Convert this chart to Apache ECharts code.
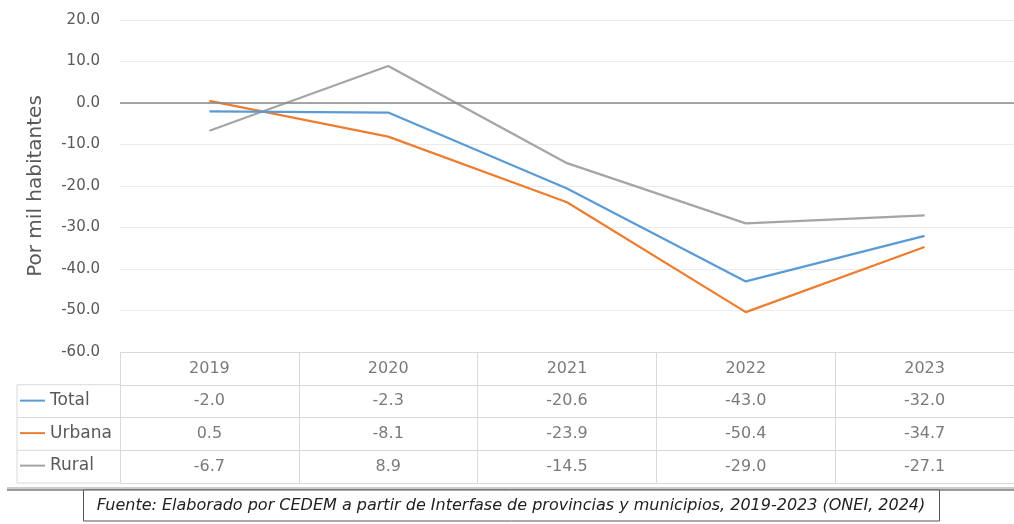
<!DOCTYPE html>
<html>
<head>
<meta charset="utf-8">
<script src="https://cdn.jsdelivr.net/npm/echarts@6/dist/echarts.min.js"></script>
<style>html,body{margin:0;padding:0;background:#fff}#c{width:1014px;height:524px}</style>
</head>
<body>
<div id="c"></div>
<script>
var years = ['2019', '2020', '2021', '2022', '2023'];
var seriesNames = ['Total', 'Urbana', 'Rural'];
var total = [-2.0, -2.3, -20.6, -43.0, -32.0];
var urbana = [0.5, -8.1, -23.9, -50.4, -34.7];
var rural = [-6.7, 8.9, -14.5, -29.0, -27.1];
var yTicks = { min: -60, max: 20, interval: 10 };
var yTitle = 'Por mil habitantes';
var source = 'Fuente: Elaborado por CEDEM a partir de Interfase de provincias y municipios, 2019-2023 (ONEI, 2024)';

var colors = ['#5B9BD5', '#ED7D31', '#A5A5A5'];
var allVals = [total, urbana, rural];
var FONT = 'DejaVu Sans';
var TXT = '#595959';
var GRID_L = 120, GRID_W = 895;
var TBL_TOP = 352, TBL_H = 131;
var rowH = TBL_H / 4;
var LEG_FS = 17;

var tableData = [];
years.forEach(function (y, i) { tableData.push([i, 0, y]); });
allVals.forEach(function (arr, r) {
  arr.forEach(function (v, i) { tableData.push([i, r + 1, v.toFixed(1)]); });
});

var chart = echarts.init(document.getElementById('c'), null, { renderer: 'canvas' });

var graphics = [];
graphics.push({ type: 'line', shape: { x1: 17, y1: TBL_TOP + rowH, x2: 17, y2: TBL_TOP + TBL_H }, style: { stroke: '#d9d9d9', lineWidth: 1 } });
for (var k = 1; k <= 4; k++) {
  var yy = TBL_TOP + rowH * k;
  graphics.push({ type: 'line', shape: { x1: 17, y1: yy, x2: GRID_L, y2: yy }, style: { stroke: '#d9d9d9', lineWidth: 1 } });
}
graphics.push({ type: 'line', shape: { x1: 7, y1: 488, x2: 1014, y2: 488 }, style: { stroke: '#9a9a9a', lineWidth: 1 } });
graphics.push({ type: 'line', shape: { x1: 7, y1: 490, x2: 1014, y2: 490 }, style: { stroke: '#7a7a7a', lineWidth: 1.5 } });
graphics.push({ type: 'rect', shape: { x: 83.5, y: 490, width: 856, height: 31 }, style: { fill: '#fff', stroke: '#555', lineWidth: 1 } });
graphics.push({ type: 'text', x: 511, y: 506, style: { text: source, font: 'italic 16px "DejaVu Sans"', fill: '#222', textAlign: 'center', textVerticalAlign: 'middle' } });

var option = {
  backgroundColor: '#fff',
  animation: false,
  color: colors,
  textStyle: { fontFamily: FONT },
  grid: [
    { left: GRID_L, top: 20, width: GRID_W, height: 332 },
    { left: GRID_L, top: TBL_TOP, width: GRID_W, height: TBL_H }
  ],
  legend: {
    orient: 'vertical', left: 20, top: TBL_TOP + rowH * 1.5 - LEG_FS / 2 - 0.5,
    padding: 0,
    itemWidth: 25, itemHeight: 2, itemGap: rowH - LEG_FS - 0.25,
    icon: 'rect',
    data: seriesNames,
    textStyle: { fontSize: LEG_FS, color: TXT, fontFamily: FONT }
  },
  xAxis: [
    { type: 'category', gridIndex: 0, data: years, boundaryGap: true,
      axisLine: { show: false }, axisTick: { show: false }, axisLabel: { show: false }, splitLine: { show: false } },
    { type: 'category', gridIndex: 1, data: years, boundaryGap: true,
      axisLine: { show: false }, axisTick: { show: false }, axisLabel: { show: false },
      splitLine: { show: true, interval: 0, lineStyle: { color: '#d9d9d9', width: 1 } } }
  ],
  yAxis: [
    { type: 'value', gridIndex: 0, min: yTicks.min, max: yTicks.max, interval: yTicks.interval,
      name: yTitle, nameLocation: 'middle', nameRotate: 90, nameGap: 74,
      nameTextStyle: { fontSize: 20, color: TXT, fontFamily: FONT },
      axisLine: { show: false }, axisTick: { show: false },
      axisLabel: { margin: 20, fontSize: 15, color: TXT, formatter: function (v) { return v.toFixed(1); } },
      splitLine: { lineStyle: { color: '#ebebeb', width: 1 } } },
    { type: 'category', gridIndex: 1, data: ['', 'Total', 'Urbana', 'Rural'], inverse: true, boundaryGap: true,
      axisLine: { show: false }, axisTick: { show: false }, axisLabel: { show: false },
      splitLine: { show: true, interval: 0, lineStyle: { color: '#d9d9d9', width: 1 } } }
  ],
  series: [
    { name: 'Total', type: 'line', xAxisIndex: 0, yAxisIndex: 0, data: total, symbol: 'none',
      lineStyle: { width: 2.25, color: colors[0] }, z: 4,
      markLine: { silent: true, symbol: 'none', label: { show: false },
        lineStyle: { color: '#8a8a8a', width: 1.5, type: 'solid' }, data: [{ yAxis: 0 }] } },
    { name: 'Urbana', type: 'line', xAxisIndex: 0, yAxisIndex: 0, data: urbana, symbol: 'none',
      lineStyle: { width: 2.25, color: colors[1] }, z: 3 },
    { name: 'Rural', type: 'line', xAxisIndex: 0, yAxisIndex: 0, data: rural, symbol: 'none',
      lineStyle: { width: 2.25, color: colors[2] }, z: 2 },
    { name: 'table', type: 'scatter', xAxisIndex: 1, yAxisIndex: 1, data: tableData, symbolSize: 0,
      silent: true,
      label: { show: true, position: 'inside', fontSize: 16, color: TXT, fontFamily: FONT,
        formatter: function (p) { return p.value[2]; } } }
  ],
  graphic: graphics
};
chart.setOption(option);
</script>
</body>
</html>
